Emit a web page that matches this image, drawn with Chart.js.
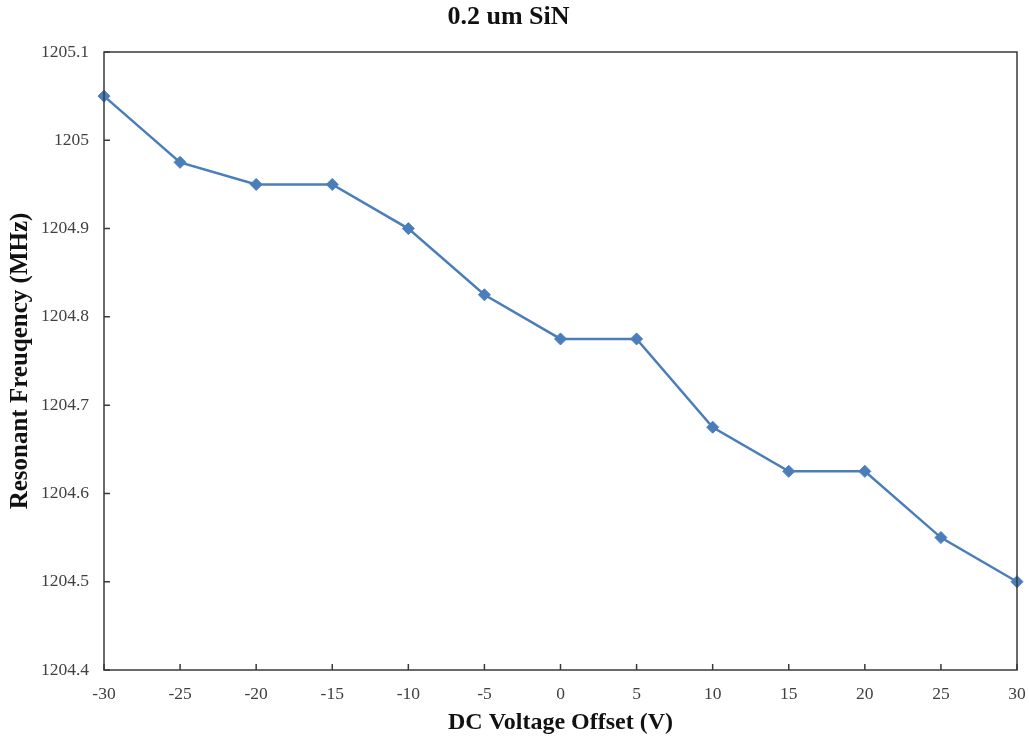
<!DOCTYPE html>
<html>
<head>
<meta charset="utf-8">
<title>0.2 um SiN</title>
<script src="https://cdn.jsdelivr.net/npm/chart.js@4/dist/chart.umd.min.js"></script>
<style>
  html, body { margin: 0; padding: 0; background: #fff; }
  #wrap { width: 1029px; height: 738px; }
</style>
</head>
<body>
<div id="wrap"><canvas id="chart" width="1029" height="738"></canvas></div>
<script>
// DC voltage offset (V) and measured resonant frequency (MHz)
const voltages = [-30, -25, -20, -15, -10, -5, 0, 5, 10, 15, 20, 25, 30];
const frequencies = [1205.05, 1204.975, 1204.95, 1204.95, 1204.9, 1204.825, 1204.775,
                     1204.775, 1204.675, 1204.625, 1204.625, 1204.55, 1204.5];
const xTicks = [-30, -25, -20, -15, -10, -5, 0, 5, 10, 15, 20, 25, 30];
const yTicks = [1204.4, 1204.5, 1204.6, 1204.7, 1204.8, 1204.9, 1205, 1205.1];

const serif = '"Liberation Serif", "Times New Roman", serif';
const axisColor = '#3a3a3a';

// Draws the plot frame and short inward tick marks, like the spreadsheet original
const framePlugin = {
    id: 'frame',
    afterDatasetsDraw(chart) {
        const { ctx, chartArea: a, scales } = chart;
        ctx.save();
        ctx.strokeStyle = axisColor;
        ctx.lineWidth = 1.5;
        ctx.strokeRect(a.left, a.top, a.right - a.left, a.bottom - a.top);
        ctx.beginPath();
        xTicks.forEach(v => {
            const px = scales.x.getPixelForValue(v);
            ctx.moveTo(px, a.bottom);
            ctx.lineTo(px, a.bottom - 6);
        });
        yTicks.forEach(v => {
            const py = scales.y.getPixelForValue(v);
            ctx.moveTo(a.left, py);
            ctx.lineTo(a.left + 6, py);
        });
        ctx.stroke();
        ctx.restore();
    }
};

const ctx = document.getElementById('chart').getContext('2d');
new Chart(ctx, {
    type: 'line',
    data: {
        datasets: [{
            data: voltages.map((v, i) => ({ x: v, y: frequencies[i] })),
            borderColor: '#4A7EBB',
            backgroundColor: '#4A7EBB',
            borderWidth: 2.5,
            pointStyle: 'rectRot',
            pointRadius: 6,
            pointBorderWidth: 1,
            tension: 0,
            clip: false
        }]
    },
    options: {
        responsive: false,
        animation: false,
        layout: { padding: { left: 0, right: 12, top: 0, bottom: 0 } },
        plugins: {
            legend: { display: false },
            tooltip: { enabled: false },
            title: {
                display: true,
                text: '0.2 um SiN',
                color: '#111',
                font: { family: serif, size: 26, weight: 'bold', lineHeight: 1.2 },
                padding: { top: 2, bottom: 18.8 }
            }
        },
        scales: {
            x: {
                type: 'linear',
                min: -30,
                max: 30,
                afterBuildTicks: s => { s.ticks = xTicks.map(v => ({ value: v })); },
                afterFit: s => {
                    s.height = 68;
                    // let the layout padding alone decide the right edge
                    s.paddingLeft = 0;
                    s.paddingRight = 0;
                },
                grid: { display: false, drawTicks: false },
                border: { display: false },
                ticks: {
                    padding: 14,
                    color: '#404040',
                    font: { family: serif, size: 17.5 },
                    maxRotation: 0,
                    callback: v => String(v)
                },
                title: {
                    display: true,
                    text: 'DC Voltage Offset (V)',
                    color: '#111',
                    font: { family: serif, size: 24, weight: 'bold', lineHeight: 1.2 },
                    padding: { top: 0, bottom: 1 }
                }
            },
            y: {
                min: 1204.4,
                max: 1205.1,
                afterBuildTicks: s => { s.ticks = yTicks.map(v => ({ value: v })); },
                afterFit: s => { s.width = 104; },
                grid: { display: false, drawTicks: false },
                border: { display: false },
                ticks: {
                    padding: 15,
                    color: '#404040',
                    font: { family: serif, size: 17.5 },
                    callback: v => String(Number(v.toFixed(1)))
                },
                title: {
                    display: true,
                    text: 'Resonant Freuqency (MHz)',
                    color: '#111',
                    font: { family: serif, size: 25, weight: 'bold', lineHeight: 1.2 },
                    padding: { top: 6, bottom: 0 }
                }
            }
        }
    },
    plugins: [framePlugin]
});
</script>
</body>
</html>
